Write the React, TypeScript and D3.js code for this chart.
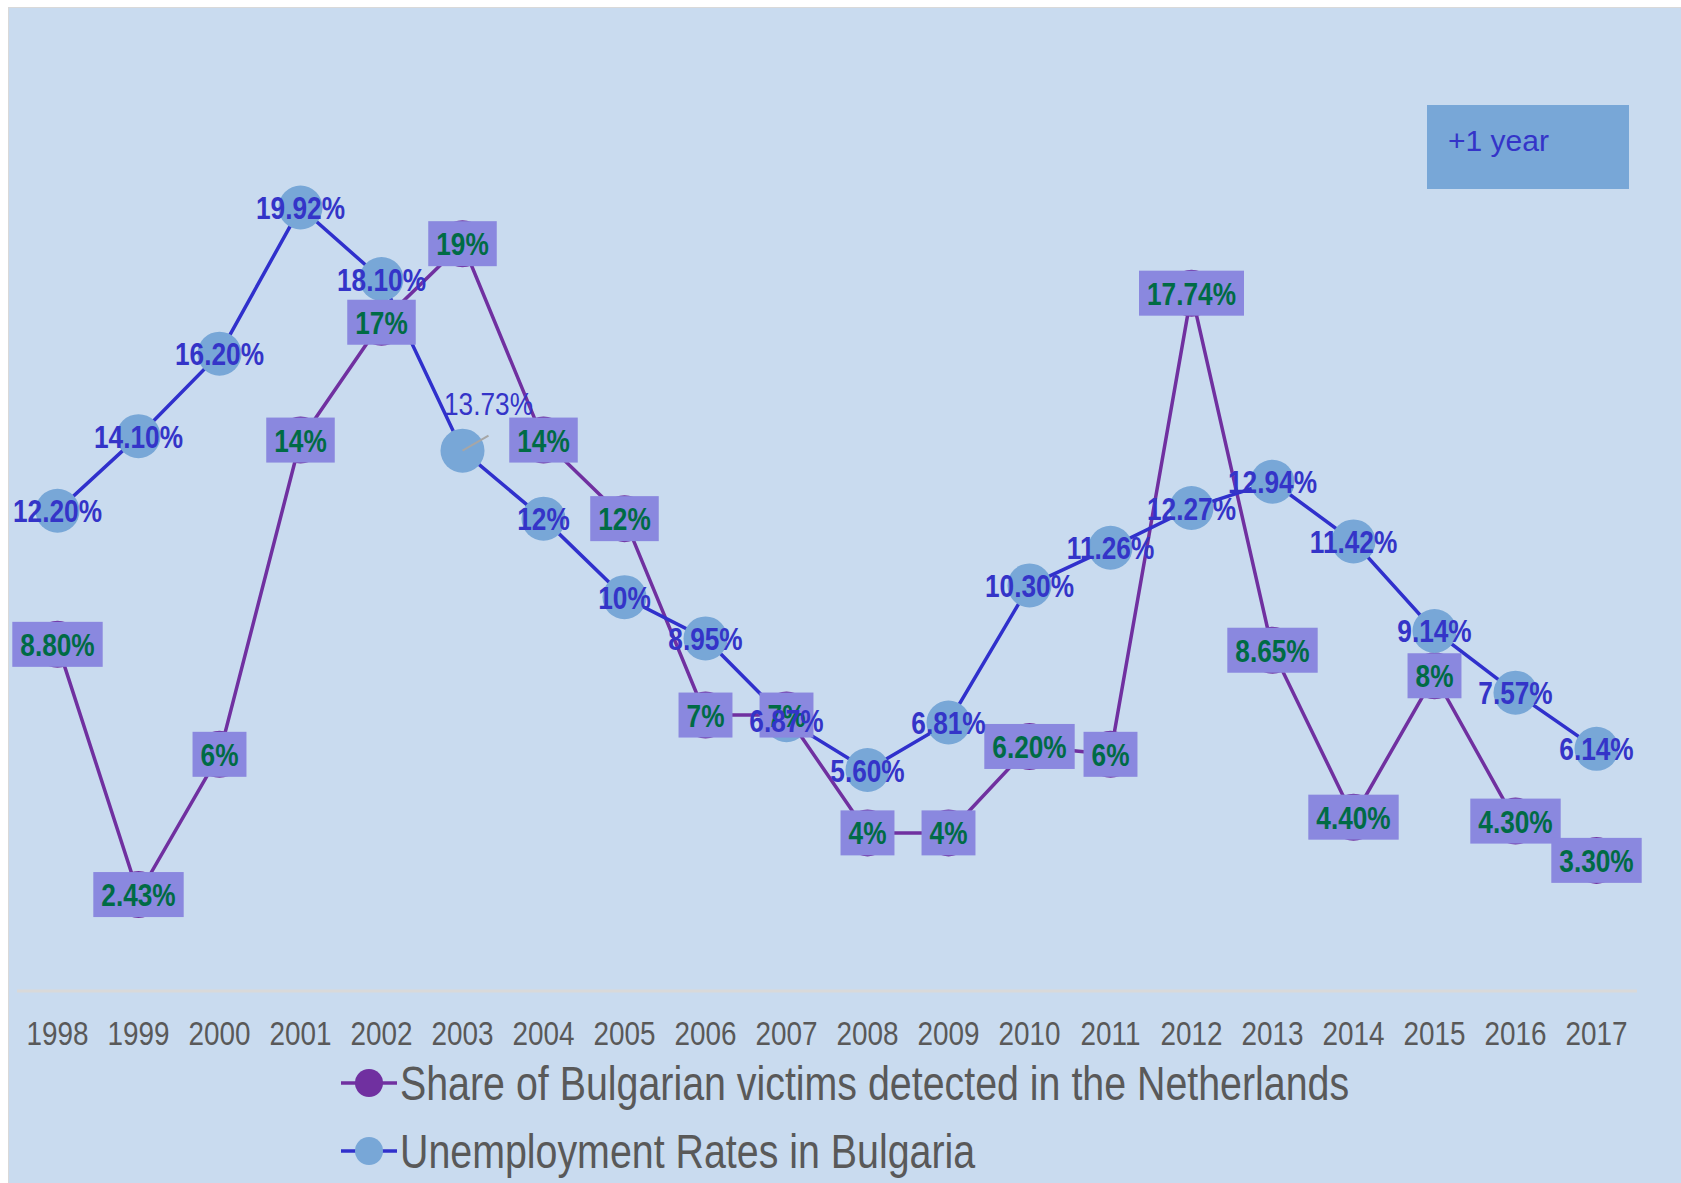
import React from "react";
import * as d3 from "d3";

const years = ["1998", "1999", "2000", "2001", "2002", "2003", "2004", "2005", "2006", "2007",
  "2008", "2009", "2010", "2011", "2012", "2013", "2014", "2015", "2016", "2017"];

const shareValues = [8.8, 2.43, 6, 14, 17, 19, 14, 12, 7, 7, 4, 4, 6.2, 6, 17.74, 8.65, 4.4, 8, 4.3, 3.3];
const shareLabels = ["8.80%", "2.43%", "6%", "14%", "17%", "19%", "14%", "12%", "7%", "7%",
  "4%", "4%", "6.20%", "6%", "17.74%", "8.65%", "4.40%", "8%", "4.30%", "3.30%"];

const unempValues = [12.2, 14.1, 16.2, 19.92, 18.1, 13.73, 12, 10, 8.95, 6.87,
  5.6, 6.81, 10.3, 11.26, 12.27, 12.94, 11.42, 9.14, 7.57, 6.14];
const unempLabels = ["12.20%", "14.10%", "16.20%", "19.92%", "18.10%", "13.73%", "12%", "10%", "8.95%", "6.87%",
  "5.60%", "6.81%", "10.30%", "11.26%", "12.27%", "12.94%", "11.42%", "9.14%", "7.57%", "6.14%"];

const seriesNames = ["Share of Bulgarian victims detected in the Netherlands", "Unemployment Rates in Bulgaria"];

const W = 1681;
const H = 1183;
const FONT = "'Liberation Sans', Arial, sans-serif";
const NARROW = 0.82;
const LABEL_SIZE = 32;

const C = {
  bg: "#c9dbef",
  frame: "#d9d9d9",
  purple: "#7030a0",
  blueLine: "#3030cc",
  blueDot: "#78a7d7",
  blueText: "#3434c8",
  box: "#8a88df",
  green: "#006b45",
  grey: "#595959",
};

// bold Arial advance widths, for sizing the label boxes
function labelWidth(s: string) {
  let w = 0;
  for (const ch of s) w += ch === "." ? 278 : ch === "%" ? 889 : 556;
  return (w / 1000) * LABEL_SIZE * NARROW;
}

function NarrowText(props: any) {
  const { x, y, children, ...rest } = props;
  return (
    <text transform={`translate(${x},${y}) scale(${NARROW},1)`} fontFamily={FONT} {...rest}>
      {children}
    </text>
  );
}

export default function App() {
  const x = d3.scaleBand().domain(years).range([17, 1637]);
  const cx = (i: number) => (x(years[i]) as number) + x.bandwidth() / 2;
  const y = d3.scaleLinear().domain([0, 25]).range([990, 8]);

  const line = d3.line<number>().x((d, i) => cx(i)).y(d => y(d));

  return (
    <svg width={W} height={H} style={{ position: "absolute", left: 0, top: 0, display: "block" }}>
      <rect x={8.5} y={7.5} width={W} height={H} fill={C.bg} stroke={C.frame} strokeWidth={1} />

      {/* x axis */}
      <line x1={17} x2={1637} y1={991} y2={991} stroke={C.frame} strokeWidth={3} />
      {years.map((yr, i) => (
        <NarrowText key={yr} x={cx(i)} y={1045} fontSize={34} fill={C.grey} textAnchor="middle">{yr}</NarrowText>
      ))}

      {/* share series */}
      <path d={line(shareValues) as string} fill="none" stroke={C.purple} strokeWidth={3.5} />
      {shareValues.map((v, i) => (
        <circle key={i} cx={cx(i)} cy={y(v)} r={23.5} fill={C.purple} />
      ))}

      {/* unemployment series */}
      <path d={line(unempValues) as string} fill="none" stroke={C.blueLine} strokeWidth={3.5} />
      {unempValues.map((v, i) => (
        <circle key={i} cx={cx(i)} cy={y(v)} r={22} fill={C.blueDot} />
      ))}
      <line x1={cx(5)} y1={y(unempValues[5])} x2={cx(5) + 26} y2={y(unempValues[5]) - 15} stroke="#a6a6a6" strokeWidth={2} />

      {/* share labels */}
      {shareValues.map((v, i) => {
        const bw = labelWidth(shareLabels[i]) + 16;
        return (
          <g key={i}>
            <rect x={cx(i) - bw / 2} y={y(v) - 22.5} width={bw} height={45} fill={C.box} />
            <NarrowText x={cx(i)} y={y(v) + 11.5} fontSize={LABEL_SIZE} fontWeight="bold" fill={C.green} textAnchor="middle">
              {shareLabels[i]}
            </NarrowText>
          </g>
        );
      })}

      {/* unemployment labels */}
      {unempValues.map((v, i) => {
        const moved = i === 5;
        return (
          <NarrowText key={i} x={cx(i) + (moved ? 26 : 0)} y={y(v) + 11.5 + (moved ? -47 : 0)}
            fontSize={LABEL_SIZE} fontWeight={moved ? "normal" : "bold"} fill={C.blueText} textAnchor="middle">
            {unempLabels[i]}
          </NarrowText>
        );
      })}

      {/* note box */}
      <rect x={1427} y={105} width={202} height={84} fill={C.blueDot} />
      <text x={1448} y={151} fontFamily={FONT} fontSize={30} fill={C.blueText}>+1 year</text>

      {/* legend */}
      {seriesNames.map((name, i) => {
        const ly = i === 0 ? 1083 : 1151;
        return (
          <g key={name}>
            <line x1={341} x2={397} y1={ly} y2={ly} stroke={i === 0 ? C.purple : C.blueLine} strokeWidth={3.5} />
            <circle cx={369} cy={ly} r={14} fill={i === 0 ? C.purple : C.blueDot} />
            <NarrowText x={400} y={ly + 17} fontSize={48} fill={C.grey}>{name}</NarrowText>
          </g>
        );
      })}
    </svg>
  );
}
